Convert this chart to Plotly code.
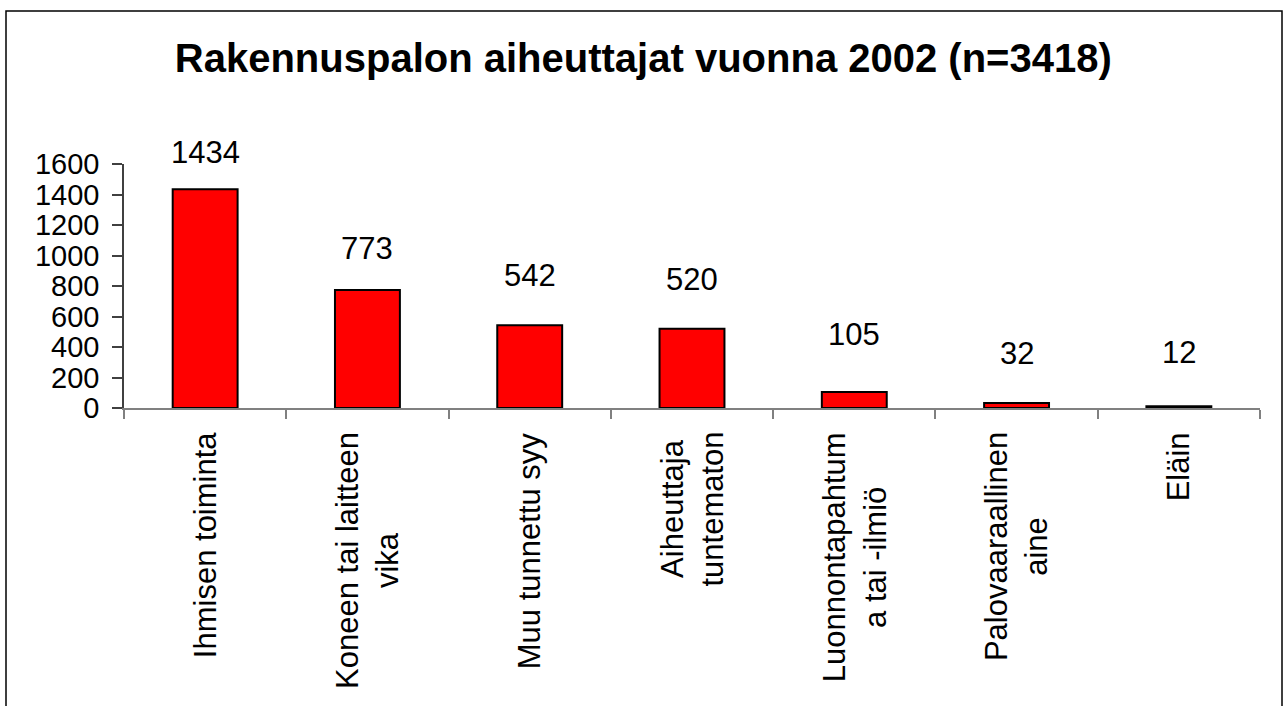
import plotly.graph_objects as go

categories = ["Ihmisen toiminta", "Koneen tai laitteen<br>vika", "Muu tunnettu syy",
              "Aiheuttaja<br>tuntematon", "Luonnontapahtum<br>a tai -ilmiö",
              "Palovaaraallinen<br>aine", "Eläin"]
values = [1434, 773, 542, 520, 105, 32, 12]
y_ticks = [0, 200, 400, 600, 800, 1000, 1200, 1400, 1600]

# styling: pixel offset of each value label centre above its bar top
label_offsets = [37, 42, 50, 49, 57, 50, 54]

FONT = "Liberation Sans, Arial, sans-serif"
FS = 31
W, H = 1284, 706
L, R, T, B = 124, 24, 164, 298

fig = go.Figure()
fig.add_trace(go.Bar(
    x=categories, y=values, width=0.4,
    marker=dict(color="#FF0000", line=dict(color="#000000", width=2)),
    hoverinfo="x+y",
))

annotations = []
for c, v, off in zip(categories, values, label_offsets):
    annotations.append(dict(x=c, y=v, xref="x", yref="y", text=str(v), showarrow=False,
                            yanchor="middle", yshift=off,
                            font=dict(family=FONT, size=FS, color="#000000")))
    annotations.append(dict(x=c, y=0, xref="x", yref="paper", text=c, showarrow=False,
                            textangle=-90, align="center", xanchor="center", yanchor="top",
                            yshift=-22,
                            font=dict(family=FONT, size=FS, color="#000000")))

pw = W - L - R
ph = H - T - B
fig.update_layout(
    width=W, height=H,
    margin=dict(l=L, r=R, t=T, b=B),
    paper_bgcolor="white", plot_bgcolor="white",
    showlegend=False,
    font=dict(family=FONT, color="#000000"),
    title=dict(text="<b>Rakennuspalon aiheuttajat vuonna 2002 (n=3418)</b>",
               x=0.501, xanchor="center", y=1 - 58 / H, yanchor="middle",
               font=dict(family=FONT, size=40, color="#000000")),
    xaxis=dict(type="category", showticklabels=False, ticks="outside", tickson="boundaries",
               ticklen=9, tickcolor="#808080", tickwidth=1.5,
               showline=True, linecolor="#808080", linewidth=1.5,
               showgrid=False, zeroline=False),
    yaxis=dict(range=[0, 1600], tickvals=y_ticks, ticks="outside", ticklen=10,
               tickcolor="#404040", tickwidth=1.5,
               showline=True, linecolor="#404040", linewidth=1.5,
               showgrid=False, zeroline=False, ticklabelstandoff=7,
               tickfont=dict(family=FONT, size=29, color="#000000")),
    annotations=annotations,
    shapes=[dict(type="rect", xref="paper", yref="paper",
                 x0=(6 - L) / pw, x1=(1282 - L) / pw,
                 y0=(H - B - 712) / ph, y1=(H - B - 11) / ph,
                 line=dict(color="#000000", width=1.5), fillcolor="rgba(0,0,0,0)",
                 layer="above")],
)

fig.write_html("out.html", config={"displayModeBar": False},
               post_script="document.body.style.margin='0';")
